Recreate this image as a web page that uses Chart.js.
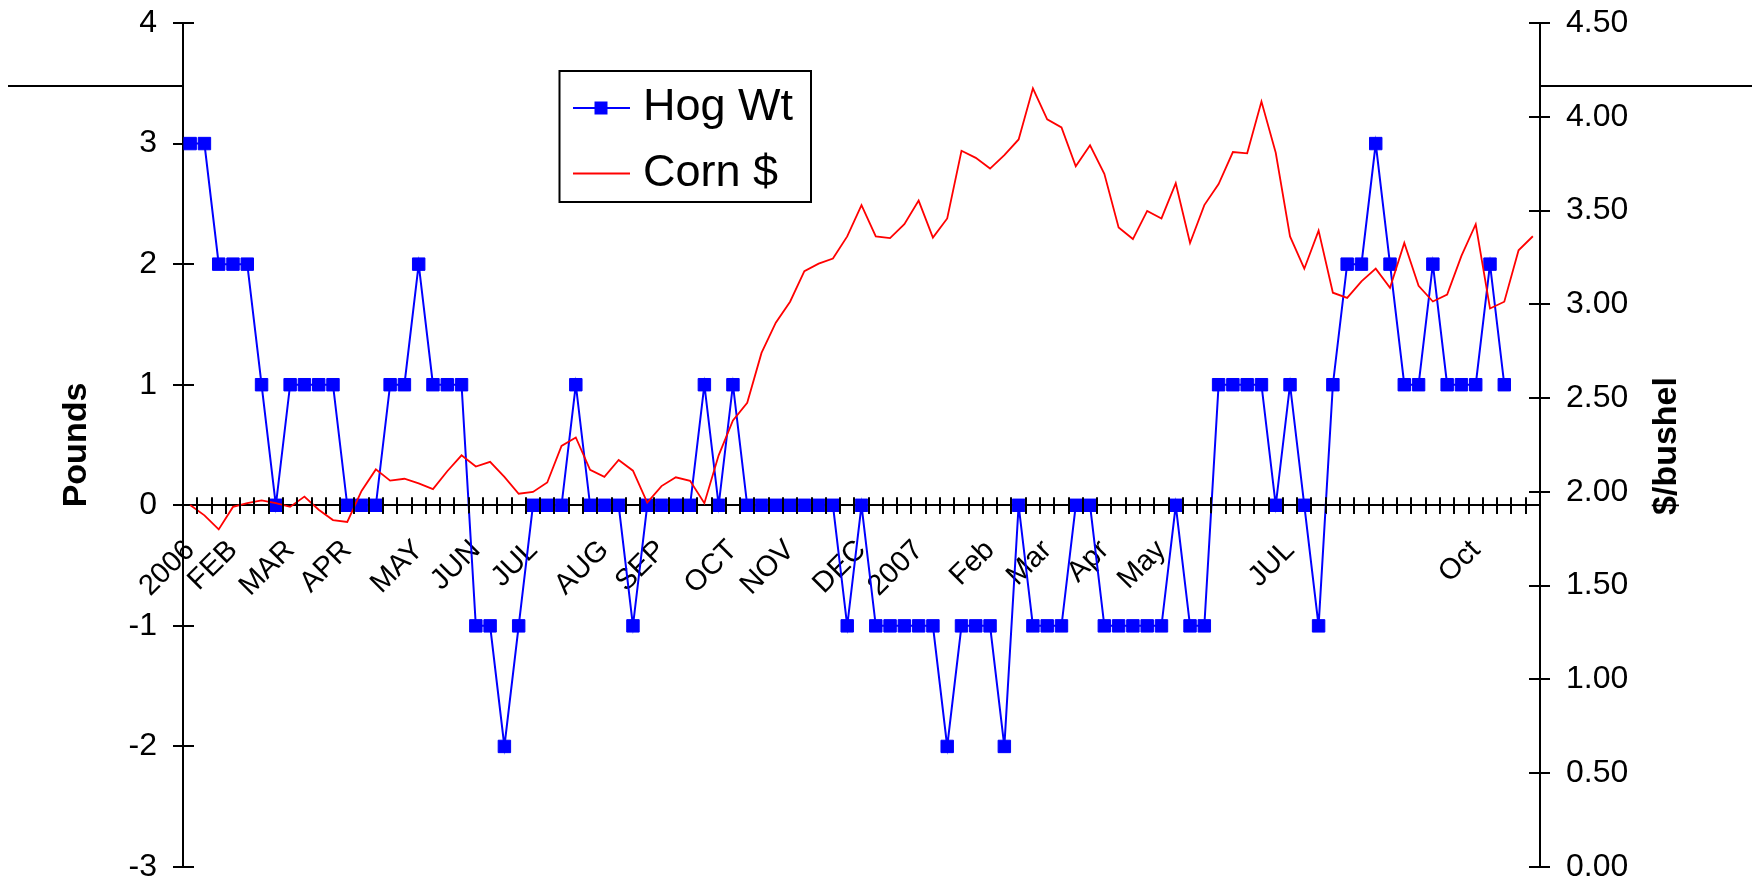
<!DOCTYPE html>
<html>
<head>
<meta charset="utf-8">
<script src="https://cdn.jsdelivr.net/npm/chart.js@4.4.1/dist/chart.umd.min.js"></script>
<style>
  html, body { margin: 0; padding: 0; background: #ffffff; }
  #wrap { width: 1761px; height: 884px; }
</style>
</head>
<body>
<div id="wrap"><canvas id="c" width="1761" height="884"></canvas></div>
<script>
// ---------------- data ----------------
const weekCount = 95;
const monthLabels = ['2006','FEB','MAR','APR','MAY','JUN','JUL','AUG','SEP','OCT','NOV','DEC','2007','Feb','Mar','Apr','May','JUL','Oct'];
const monthLabelWeeks = [0, 3, 7, 11, 16, 20, 24, 29, 33, 38, 42, 47, 51, 56, 60, 64, 68, 77, 90];

const hogWt = [
  3, 3, 2, 2, 2, 1, 0, 1, 1, 1,
  1, 0, 0, 0, 1, 1, 2, 1, 1, 1,
  -1, -1, -2, -1, 0, 0, 0, 1, 0, 0,
  0, -1, 0, 0, 0, 0, 1, 0, 1, 0,
  0, 0, 0, 0, 0, 0, -1, 0, -1, -1,
  -1, -1, -1, -2, -1, -1, -1, -2, 0, -1,
  -1, -1, 0, 0, -1, -1, -1, -1, -1, 0,
  -1, -1, 1, 1, 1, 1, 0, 1, 0, -1,
  1, 2, 2, 3, 2, 1, 1, 2, 1, 1,
  1, 2, 1
];

const cornPrice = [
  1.93, 1.875, 1.80, 1.92, 1.94, 1.955, 1.94, 1.92, 1.975, 1.905,
  1.85, 1.84, 2.005, 2.12, 2.06, 2.07, 2.045, 2.015, 2.11, 2.195,
  2.135, 2.16, 2.08, 1.99, 2.00, 2.05, 2.245, 2.29, 2.118, 2.08,
  2.17, 2.113, 1.943, 2.031, 2.078, 2.059, 1.94, 2.195, 2.381, 2.475,
  2.741, 2.902, 3.014, 3.177, 3.217, 3.244, 3.362, 3.529, 3.362, 3.353,
  3.427, 3.553, 3.356, 3.458, 3.819, 3.781, 3.724, 3.796, 3.879, 4.152,
  3.986, 3.943, 3.736, 3.848, 3.696, 3.410, 3.348, 3.498, 3.458, 3.646,
  3.327, 3.529, 3.641, 3.812, 3.805, 4.081, 3.808, 3.362, 3.19, 3.393,
  3.062, 3.034, 3.122, 3.19, 3.088, 3.327, 3.099, 3.015, 3.052, 3.258,
  3.427, 2.978, 3.014, 3.288, 3.363
];

const seriesNames = ['Hog Wt', 'Corn $'];
const leftAxisTitle = 'Pounds';
const rightAxisTitle = '$/bushel';
const sideRuleValue = 3.48;   // value (left scale) of the short rules outside the plot

// categories built from the tick label arrays
const categories = Array.from({ length: weekCount }, (_, i) => {
  const k = monthLabelWeeks.indexOf(i);
  return k >= 0 ? monthLabels[k] : '';
});

// ---------------- styling helpers ----------------
const FONT = '"Liberation Sans", Arial, Helvetica, sans-serif';
Chart.defaults.font.family = FONT;
Chart.defaults.color = '#000000';

function makeIcon(color, withSquare, lw) {
  const c = document.createElement('canvas');
  c.width = 57; c.height = 16;
  const g = c.getContext('2d');
  g.strokeStyle = color; g.lineWidth = lw;
  g.beginPath(); g.moveTo(0, 8); g.lineTo(57, 8); g.stroke();
  if (withSquare) { g.fillStyle = color; g.fillRect(28.5 - 6.5, 8 - 6.5, 13, 13); }
  return c;
}
const legendIcons = [makeIcon('#0000ff', true, 2), makeIcon('#ff0000', false, 1.8)];

const decorPlugin = {
  id: 'decor',
  beforeDraw(chart) {
    const lg = chart.legend;
    if (!lg) return;
    lg.left = 561; lg.top = 65;
    lg.width = 300; lg.height = 260;
    lg.right = lg.left + lg.width; lg.bottom = lg.top + lg.height;
  },
  beforeDatasetsDraw(chart) {
    const { ctx, chartArea: ca, scales } = chart;
    const ys = scales.y, yr = scales.y1;
    ctx.save();
    ctx.strokeStyle = '#000'; ctx.lineWidth = 2;
    ctx.beginPath();
    ys.ticks.forEach((t, i) => { const p = Math.round(ys.getPixelForTick(i)); ctx.moveTo(ca.left, p); ctx.lineTo(ca.left + 11, p); });
    yr.ticks.forEach((t, i) => { const p = Math.round(yr.getPixelForTick(i)); ctx.moveTo(ca.right - 11, p); ctx.lineTo(ca.right, p); });
    // short rules outside the plot area
    const ry = Math.round(ys.getPixelForValue(sideRuleValue));
    ctx.moveTo(8, ry); ctx.lineTo(ca.left, ry);
    ctx.moveTo(ca.right, ry); ctx.lineTo(1752, ry);
    ctx.stroke();
    ctx.restore();
  },
  afterDatasetsDraw(chart) {
    const { ctx, scales } = chart;
    const xs = scales.x, ys = scales.y;
    const y0 = ys.getPixelForValue(0);
    ctx.save();
    ctx.strokeStyle = '#000'; ctx.lineWidth = 2;
    ctx.beginPath();
    for (let i = 0; i <= xs.ticks.length; i++) {
      const p = Math.round(xs.getPixelForValue(i - 0.5));
      ctx.moveTo(p, y0 - 8); ctx.lineTo(p, y0 + 8);
    }
    ctx.stroke();
    ctx.restore();
  },
  afterDraw(chart) {
    const { ctx, chartArea: ca } = chart;
    ctx.save();
    // legend frame
    ctx.strokeStyle = '#000'; ctx.lineWidth = 2;
    ctx.strokeRect(559.5, 71, 251.5, 131);
    // right axis title (reads bottom-to-top)
    ctx.fillStyle = '#000';
    ctx.font = 'bold 34px ' + FONT;
    ctx.textAlign = 'center'; ctx.textBaseline = 'middle';
    ctx.translate(ca.right + 127, (ca.top + ca.bottom) / 2 + 1);
    ctx.rotate(-Math.PI / 2);
    ctx.fillText(rightAxisTitle, 0, 0);
    ctx.restore();
  }
};

function fixWidth(w) {
  return function (scale) {
    scale.width = w;
    scale.paddingTop = 0;
    scale.paddingBottom = 0;
  };
}

new Chart(document.getElementById('c'), {
  type: 'line',
  data: {
    labels: categories,
    datasets: [
      {
        label: seriesNames[0], data: hogWt, xAxisID: 'x', yAxisID: 'y',
        borderColor: '#0000ff', backgroundColor: '#0000ff', borderWidth: 2,
        pointStyle: 'rect', pointRadius: 8.8, pointBorderWidth: 1,
        pointBorderColor: '#0000ff', pointBackgroundColor: '#0000ff',
        tension: 0, fill: false, order: 1
      },
      {
        label: seriesNames[1], data: cornPrice, xAxisID: 'x', yAxisID: 'y1',
        borderColor: '#ff0000', backgroundColor: '#ff0000', borderWidth: 1.8,
        pointRadius: 0, tension: 0, fill: false, order: 0
      }
    ]
  },
  options: {
    responsive: false,
    animation: false,
    devicePixelRatio: 1,
    events: [],
    layout: { padding: { top: 23, bottom: 17, left: 0, right: 0 } },
    plugins: {
      tooltip: { enabled: false },
      title: { display: false },
      legend: {
        display: true,
        position: 'chartArea',
        align: 'start',
        labels: {
          usePointStyle: true,
          pointStyleWidth: 39,
          padding: 20.5,
          color: '#000',
          font: { size: 45, family: FONT },
          sort: (a, b) => a.datasetIndex - b.datasetIndex,
          generateLabels(chart) {
            const items = Chart.defaults.plugins.legend.labels.generateLabels(chart);
            items.forEach(it => { it.pointStyle = legendIcons[it.datasetIndex]; });
            return items;
          }
        }
      }
    },
    scales: {
      x: {
        type: 'category',
        position: { y: 0 },
        offset: true,
        grid: { offset: true, drawOnChartArea: false, drawTicks: true, tickLength: 8, color: '#000', lineWidth: 2 },
        border: { display: true, color: '#000', width: 2 },
        ticks: {
          autoSkip: false, maxRotation: 45, minRotation: 45, padding: 20,
          color: '#000', font: { size: 29, family: FONT }
        }
      },
      y: {
        position: 'left',
        min: -3, max: 4,
        ticks: { stepSize: 1, padding: 16, color: '#000', font: { size: 32, family: FONT } },
        grid: { drawOnChartArea: false, tickLength: 10, color: '#000', lineWidth: 2 },
        border: { display: true, color: '#000', width: 2 },
        title: {
          display: true, text: leftAxisTitle, color: '#000',
          font: { size: 34, weight: 'bold', family: FONT },
          padding: { top: 56, bottom: 0 }
        },
        afterFit: fixWidth(183)
      },
      y1: {
        position: 'right',
        min: 0, max: 4.5,
        ticks: {
          stepSize: 0.5, padding: 16, color: '#000', font: { size: 32, family: FONT },
          callback: v => Number(v).toFixed(2)
        },
        grid: { drawOnChartArea: false, tickLength: 10, color: '#000', lineWidth: 2 },
        border: { display: true, color: '#000', width: 2 },
        afterFit: fixWidth(221)
      }
    }
  },
  plugins: [decorPlugin]
});
</script>
</body>
</html>
